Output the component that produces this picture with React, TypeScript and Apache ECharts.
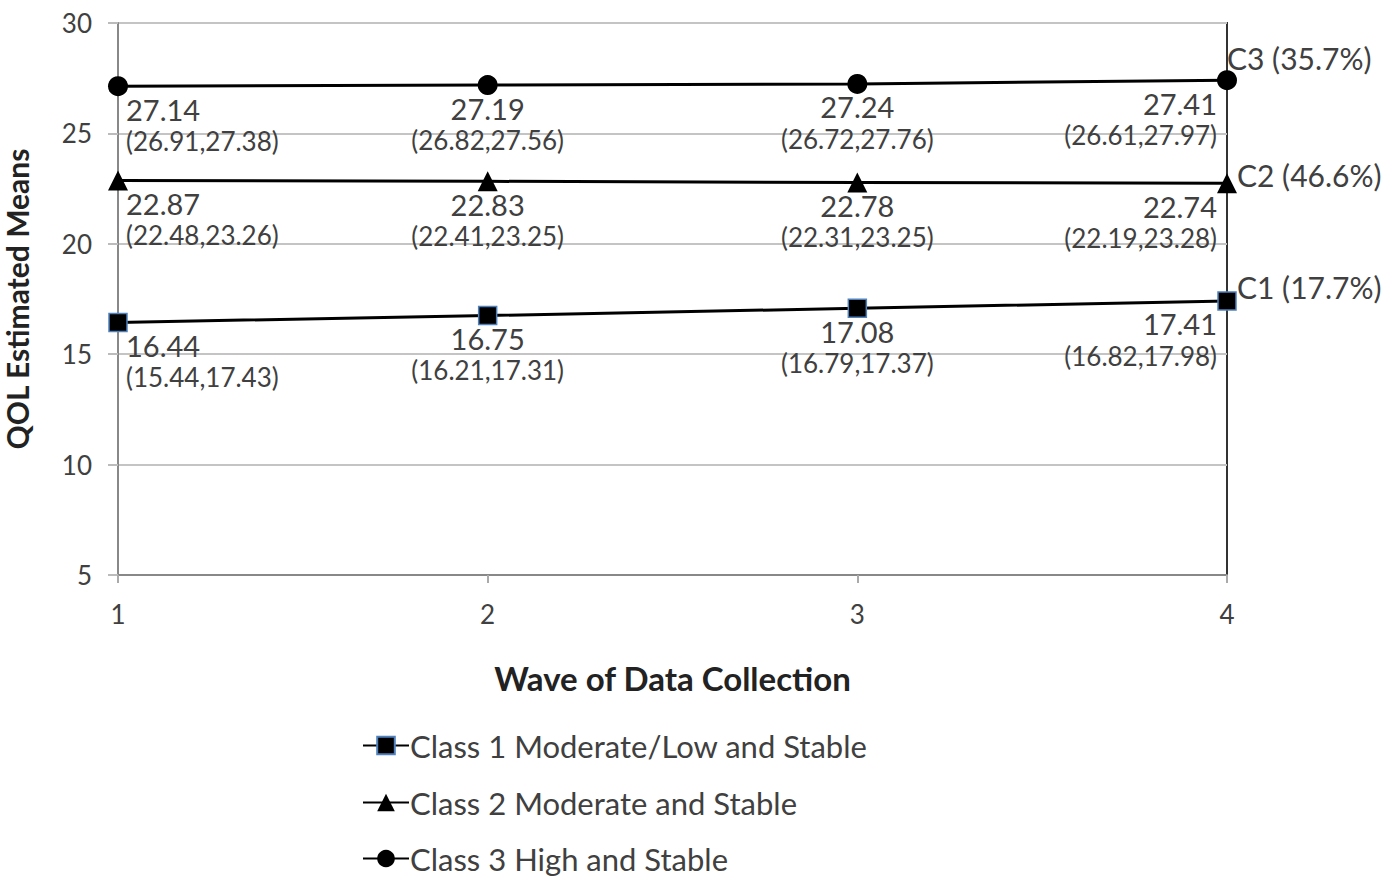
import React, { useEffect, useRef } from "react";
import * as echarts from "echarts";

const waves = ["1", "2", "3", "4"];
const classNames = [
  "Class 1 Moderate/Low and Stable",
  "Class 2 Moderate and Stable",
  "Class 3 High and Stable",
];
const classShort = ["C1", "C2", "C3"];
const classShare = [17.7, 46.6, 35.7];

const c1Mean = [16.44, 16.75, 17.08, 17.41];
const c1Low = [15.44, 16.21, 16.79, 16.82];
const c1High = [17.43, 17.31, 17.37, 17.98];

const c2Mean = [22.87, 22.83, 22.78, 22.74];
const c2Low = [22.48, 22.41, 22.31, 22.19];
const c2High = [23.26, 23.25, 23.25, 23.28];

const c3Mean = [27.14, 27.19, 27.24, 27.41];
const c3Low = [26.91, 26.82, 26.72, 26.61];
const c3High = [27.38, 27.56, 27.76, 27.97];

const yTicks = { min: 5, max: 30, interval: 5 };

const FONT = "Lato, 'Open Sans', sans-serif";
const TXT = "#404040";

function buildData(mean: number[], lo: number[], hi: number[]) {
  return mean.map((m, i) => {
    const last = i === mean.length - 1;
    const first = i === 0;
    return {
      value: m,
      label: {
        show: true,
        position: "bottom",
        distance: 0,
        align: first ? "left" : last ? "right" : "center",
        offset: first ? [8, -2] : last ? [-10, -2] : [0, -2],
        formatter: `{a|${m.toFixed(2)}}\n{b|(${lo[i].toFixed(2)},${hi[i].toFixed(2)})}`,
        rich: {
          a: { fontSize: 29, lineHeight: 30, color: TXT, fontFamily: FONT },
          b: { fontSize: 26, lineHeight: 34, color: TXT, fontFamily: FONT },
        },
      },
    };
  });
}

export default function App() {
  const ref = useRef<HTMLDivElement>(null);
  useEffect(() => {
    if (!ref.current) return;
    const chart = echarts.init(ref.current, undefined, { renderer: "svg" });
    const endOffsets = [
      [4, -14],
      [4, -8],
      [-6, -22],
    ];
    const legendTops = [730, 787, 843];
    const mk = (
      idx: number,
      data: any[],
      symbol: string,
      size: number,
      itemStyle: any
    ) => ({
      name: classNames[idx],
      type: "line",
      data,
      symbol,
      symbolSize: size,
      lineStyle: { color: "#000", width: 3 },
      itemStyle,
      z: 5,
      endLabel: {
        show: true,
        formatter: `${classShort[idx]} (${classShare[idx].toFixed(1)}%)`,
        distance: 6,
        offset: endOffsets[idx],
        color: TXT,
        fontSize: 30,
        fontFamily: FONT,
      },
    });
    chart.setOption({
      animation: false,
      backgroundColor: "#fff",
      textStyle: { fontFamily: FONT },
      grid: {
        left: 118,
        right: 166,
        top: 23,
        bottom: 304,
        show: true,
        borderColor: "#333",
        borderWidth: 2,
        containLabel: false,
        outerBoundsMode: "none",
      },
      legend: classNames.map((n, i) => ({
        orient: "horizontal",
        left: 362,
        top: legendTops[i],
        padding: 0,
        itemWidth: 46,
        itemHeight: 22,
        data: [n],
        textStyle: {
          fontSize: 31,
          lineHeight: 30,
          color: TXT,
          fontFamily: FONT,
          padding: [0, 0, 0, -4],
        },
      })),
      xAxis: {
        type: "category",
        data: waves,
        boundaryGap: false,
        name: "Wave of Data Collection",
        nameLocation: "middle",
        nameGap: 86,
        nameTextStyle: { fontSize: 33, fontWeight: "bold", color: "#222", fontFamily: FONT },
        axisLine: { lineStyle: { color: "#888", width: 2 } },
        axisTick: { show: true, length: 8, lineStyle: { color: "#aaa", width: 2 } },
        axisLabel: { fontSize: 26, color: TXT, margin: 26, fontFamily: FONT },
        splitLine: { show: false },
      },
      yAxis: {
        type: "value",
        min: yTicks.min,
        max: yTicks.max,
        interval: yTicks.interval,
        name: "QOL Estimated Means",
        nameLocation: "middle",
        nameGap: 86,
        nameRotate: 90,
        nameTextStyle: { fontSize: 30, fontWeight: "bold", color: "#222", fontFamily: FONT },
        axisLine: { show: true, lineStyle: { color: "#888", width: 2 } },
        axisTick: { show: true, length: 10, lineStyle: { color: "#bbb", width: 2 } },
        axisLabel: { fontSize: 26, color: TXT, margin: 26, fontFamily: FONT },
        splitLine: { lineStyle: { color: "#c4c4c4", width: 2 } },
      },
      series: [
        mk(0, buildData(c1Mean, c1Low, c1High), "rect", 18, {
          color: "#000",
          borderColor: "#4f81bd",
          borderWidth: 1.5,
        }),
        mk(1, buildData(c2Mean, c2Low, c2High), "triangle", 20, { color: "#000" }),
        mk(2, buildData(c3Mean, c3Low, c3High), "circle", 20, { color: "#000" }),
      ],
    });
    return () => chart.dispose();
  }, []);
  return (
    <div
      ref={ref}
      style={{ position: "fixed", left: 0, top: 0, width: 1393, height: 879 }}
    />
  );
}
